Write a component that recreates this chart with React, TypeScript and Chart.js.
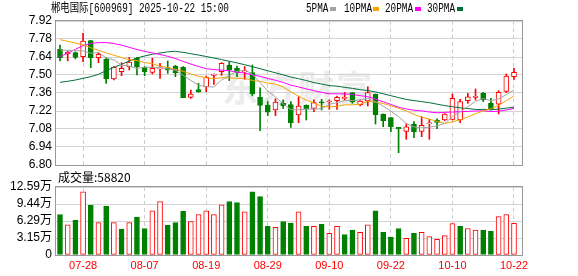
import React, { useEffect, useRef } from "react";
import { Chart, registerables } from "chart.js";

Chart.register(...registerables);

const stockTitle = "郴电国际[600969] 2025-10-22 15:00";
const watermark = "东方财富";
const maLabels = ["5PMA", "10PMA", "20PMA", "30PMA"];
const maColors = ["#a3a3a3", "#f5a300", "#ff00ff", "#006f3a"];

const dates = [
  "07-23", "07-24", "07-25", "07-28", "07-29", "07-30", "07-31", "08-01", "08-04", "08-05",
  "08-06", "08-07", "08-08", "08-11", "08-12", "08-13", "08-14", "08-15", "08-18", "08-19",
  "08-20", "08-21", "08-22", "08-25", "08-26", "08-27", "08-28", "08-29", "09-01", "09-02",
  "09-03", "09-04", "09-05", "09-08", "09-09", "09-10", "09-11", "09-12", "09-15", "09-16",
  "09-17", "09-18", "09-19", "09-22", "09-23", "09-24", "09-25", "09-26", "09-29", "09-30",
  "10-09", "10-10", "10-13", "10-14", "10-15", "10-16", "10-17", "10-20", "10-21", "10-22",
];
const dateTickIndex = [3, 11, 19, 27, 35, 43, 51, 59];

const open = [
  7.700, 7.666, 7.674, 7.643, 7.767, 7.635, 7.622, 7.469, 7.526, 7.565,
  7.630, 7.560, 7.521, 7.548, 7.557, 7.570, 7.560, 7.326, 7.386, 7.407,
  7.497, 7.526, 7.578, 7.552, 7.523, 7.518, 7.326, 7.267, 7.228, 7.280,
  7.270, 7.189, 7.267, 7.241, 7.288, 7.290, 7.300, 7.318, 7.363, 7.270,
  7.298, 7.352, 7.197, 7.168, 7.093, 7.062, 7.116, 7.062, 7.120, 7.150,
  7.150, 7.155, 7.150, 7.300, 7.326, 7.357, 7.280, 7.274, 7.373, 7.487,
];
const high = [
  7.733, 7.687, 7.680, 7.824, 7.770, 7.676, 7.637, 7.565, 7.596, 7.637,
  7.637, 7.565, 7.630, 7.591, 7.609, 7.575, 7.565, 7.383, 7.435, 7.492,
  7.510, 7.596, 7.604, 7.570, 7.565, 7.578, 7.401, 7.293, 7.316, 7.306,
  7.293, 7.331, 7.267, 7.306, 7.311, 7.306, 7.337, 7.365, 7.363, 7.306,
  7.409, 7.352, 7.197, 7.168, 7.093, 7.120, 7.137, 7.176, 7.155, 7.160,
  7.200, 7.352, 7.311, 7.357, 7.391, 7.365, 7.318, 7.378, 7.508, 7.552,
];
const low = [
  7.610, 7.610, 7.625, 7.604, 7.557, 7.596, 7.435, 7.461, 7.495, 7.539,
  7.500, 7.495, 7.508, 7.474, 7.513, 7.487, 7.324, 7.318, 7.365, 7.370,
  7.427, 7.497, 7.456, 7.487, 7.466, 7.337, 7.067, 7.184, 7.184, 7.241,
  7.093, 7.129, 7.150, 7.215, 7.228, 7.233, 7.233, 7.306, 7.280, 7.259,
  7.259, 7.119, 7.098, 7.059, 6.896, 7.000, 7.013, 7.020, 7.000, 7.083,
  7.145, 7.150, 7.129, 7.280, 7.306, 7.293, 7.228, 7.197, 7.363, 7.466,
];
const close = [
  7.635, 7.676, 7.637, 7.764, 7.635, 7.661, 7.469, 7.562, 7.552, 7.601,
  7.565, 7.523, 7.552, 7.556, 7.539, 7.518, 7.324, 7.352, 7.370, 7.482,
  7.508, 7.591, 7.539, 7.518, 7.534, 7.352, 7.264, 7.210, 7.290, 7.261,
  7.129, 7.259, 7.236, 7.285, 7.283, 7.295, 7.326, 7.318, 7.290, 7.298,
  7.363, 7.191, 7.145, 7.098, 7.083, 7.096, 7.059, 7.108, 7.124, 7.132,
  7.197, 7.318, 7.293, 7.331, 7.335, 7.306, 7.233, 7.365, 7.492, 7.521,
];

const ma5 = [
  7.694, 7.692, 7.690, 7.688, 7.669, 7.675, 7.633, 7.618, 7.576, 7.569,
  7.550, 7.561, 7.559, 7.559, 7.547, 7.538, 7.498, 7.458, 7.421, 7.409,
  7.407, 7.461, 7.498, 7.528, 7.538, 7.507, 7.441, 7.376, 7.330, 7.275,
  7.231, 7.230, 7.235, 7.234, 7.238, 7.272, 7.285, 7.301, 7.302, 7.305,
  7.319, 7.292, 7.257, 7.219, 7.176, 7.123, 7.096, 7.089, 7.094, 7.104,
  7.124, 7.176, 7.213, 7.254, 7.295, 7.317, 7.300, 7.314, 7.346, 7.383,
];
const ma10 = [
  7.775, 7.762, 7.748, 7.735, 7.712, 7.692, 7.672, 7.654, 7.636, 7.619,
  7.612, 7.597, 7.588, 7.568, 7.558, 7.544, 7.529, 7.508, 7.490, 7.478,
  7.472, 7.479, 7.478, 7.474, 7.474, 7.457, 7.451, 7.437, 7.429, 7.407,
  7.369, 7.336, 7.305, 7.282, 7.257, 7.251, 7.257, 7.268, 7.268, 7.272,
  7.295, 7.289, 7.279, 7.261, 7.241, 7.221, 7.194, 7.173, 7.157, 7.140,
  7.123, 7.136, 7.151, 7.174, 7.199, 7.220, 7.238, 7.263, 7.300, 7.339,
];
const ma20 = [
  7.643, 7.669, 7.700, 7.728, 7.745, 7.752, 7.752, 7.745, 7.732, 7.715,
  7.698, 7.684, 7.672, 7.660, 7.645, 7.628, 7.606, 7.585, 7.566, 7.549,
  7.542, 7.538, 7.533, 7.521, 7.516, 7.500, 7.490, 7.473, 7.459, 7.442,
  7.421, 7.407, 7.392, 7.378, 7.365, 7.354, 7.354, 7.353, 7.349, 7.339,
  7.332, 7.312, 7.292, 7.271, 7.249, 7.236, 7.226, 7.221, 7.212, 7.206,
  7.209, 7.212, 7.215, 7.217, 7.220, 7.221, 7.216, 7.218, 7.228, 7.240,
];
const ma30 = [
  7.443, 7.451, 7.461, 7.474, 7.487, 7.505, 7.534, 7.560, 7.583, 7.609,
  7.632, 7.648, 7.661, 7.671, 7.680, 7.684, 7.676, 7.666, 7.655, 7.644,
  7.632, 7.620, 7.607, 7.594, 7.580, 7.565, 7.549, 7.533, 7.517, 7.501,
  7.484, 7.471, 7.457, 7.441, 7.430, 7.417, 7.413, 7.404, 7.396, 7.386,
  7.379, 7.368, 7.354, 7.339, 7.324, 7.310, 7.301, 7.293, 7.285, 7.273,
  7.262, 7.253, 7.245, 7.239, 7.232, 7.231, 7.230, 7.235, 7.242, 7.250,
];

const volume = [
  75000, 56000, 64000, 117000, 92000, 60000, 90000, 60000, 48000, 60000,
  70000, 49000, 82000, 99000, 55000, 60000, 81000, 62000, 75000, 82000,
  75000, 93000, 99000, 97000, 80000, 117000, 108000, 53000, 51000, 62000,
  59000, 80000, 53000, 53000, 57000, 40000, 53000, 38000, 46000, 42000,
  56000, 82000, 42000, 33000, 49000, 31000, 40000, 42000, 34000, 29000,
  36000, 58000, 53000, 49000, 46000, 46000, 44000, 71000, 75000, 58820,
];
const volumeUp = [
  0, 1, 0, 1, 0, 1, 0, 1, 0, 1,
  0, 0, 1, 1, 0, 0, 0, 1, 1, 1,
  1, 1, 0, 0, 1, 0, 0, 0, 1, 0,
  0, 1, 0, 1, 0, 1, 1, 0, 0, 1,
  1, 0, 0, 0, 0, 1, 0, 1, 1, 1,
  1, 1, 0, 1, 1, 0, 0, 1, 1, 1,
];

const priceTicks = [6.8, 6.94, 7.08, 7.22, 7.36, 7.5, 7.64, 7.78, 7.92];
const volumeTicks = [0, 31475, 62950, 94425, 125900];
const volumeTickLabels = ["0", "3.15万", "6.29万", "9.44万", "12.59万"];

const UP = "#ff0000";
const DOWN = "#008000";
const X_MIN = -0.52;
const X_MAX = 60.04;
const AXIS_FONT = '"Liberation Sans", Arial, "Noto Sans CJK SC", sans-serif';

const framePlugin = {
  id: "frame",
  afterDraw(chart: any) {
    const { ctx, chartArea: a } = chart;
    ctx.save();
    ctx.strokeStyle = "#999999";
    ctx.lineWidth = 1;
    ctx.strokeRect(a.left - 0.5, a.top - 0.5, a.right - a.left + 1, a.bottom - a.top + 1);
    ctx.restore();
  },
};

function xScale(showLabels: boolean) {
  return {
    type: "linear",
    min: X_MIN,
    max: X_MAX,
    offset: false,
    afterBuildTicks: (s: any) => {
      s.ticks = dateTickIndex.map((v) => ({ value: v }));
    },
    grid: { offset: false, color: "#cccccc", drawTicks: false, lineWidth: 1 },
    border: { display: false, dash: [4, 3] },
    ticks: showLabels
      ? {
          display: true,
          autoSkip: false,
          maxRotation: 0,
          padding: 4,
          color: "#ff0000",
          font: { family: AXIS_FONT, size: 11 },
          callback: (v: any) => dates[Math.round(Number(v))],
        }
      : { display: false },
    ...(showLabels ? { afterFit: (s: any) => { s.height = 21; } } : {}),
  };
}

function yTicks(callback: (v: any, i: number) => string) {
  return {
    padding: 4,
    autoSkip: false,
    color: "#000000",
    font: { family: AXIS_FONT, size: 12 },
    callback,
  };
}

export default function App() {
  const priceRef = useRef<HTMLCanvasElement>(null);
  const volRef = useRef<HTMLCanvasElement>(null);

  useEffect(() => {
    const isUp = close.map((c, i) => c >= open[i]);
    const candleColor = isUp.map((u) => (u ? UP : DOWN));
    const bodyFill = isUp.map((u) => (u ? "#ffffff" : DOWN));
    const mas = [ma5, ma10, ma20, ma30];

    const priceChart = new Chart(priceRef.current as HTMLCanvasElement, {
      type: "bar",
      data: {
        datasets: [
          ...mas.map((arr, k) => ({
            type: "line" as const,
            label: maLabels[k],
            data: arr.map((v, i) => ({ x: i, y: v })),
            borderColor: maColors[k],
            borderWidth: 1,
            pointRadius: 0,
            tension: 0,
            order: 0,
          })),
          {
            type: "bar" as const,
            label: "body",
            data: open.map((o, i) => ({ x: i, y: [Math.min(o, close[i]), Math.max(o, close[i])] })),
            backgroundColor: bodyFill,
            borderColor: candleColor,
            borderWidth: 1,
            borderSkipped: false,
            barThickness: 5,
            minBarLength: 1,
            grouped: false,
            order: 1,
          },
          {
            type: "bar" as const,
            label: "wick",
            data: low.map((l, i) => ({ x: i, y: [l, high[i]] })),
            backgroundColor: candleColor,
            borderWidth: 0,
            barThickness: 1,
            grouped: false,
            order: 2,
          },
        ] as any,
      },
      options: {
        responsive: false,
        animation: false,
        devicePixelRatio: 1,
        events: [],
        layout: { padding: { left: 0, right: 56, top: 21, bottom: 13 } },
        plugins: { legend: { display: false }, tooltip: { enabled: false } },
        scales: {
          x: xScale(false) as any,
          y: {
            type: "linear",
            min: 6.8,
            max: 7.92,
            afterBuildTicks: (s: any) => {
              s.ticks = priceTicks.map((v) => ({ value: v }));
            },
            afterFit: (s: any) => {
              s.width = 56;
            },
            grid: { color: "#d4d4d4", drawTicks: false, lineWidth: 1 },
            border: { display: false },
            ticks: yTicks((v: any) => Number(v).toFixed(2)),
          },
        },
      } as any,
      plugins: [framePlugin],
    });

    const volChart = new Chart(volRef.current as HTMLCanvasElement, {
      type: "bar",
      data: {
        datasets: [
          {
            label: "volume",
            data: volume.map((v, i) => ({ x: i, y: v })),
            backgroundColor: volumeUp.map((u) => (u ? "#ffffff" : DOWN)),
            borderColor: volumeUp.map((u) => (u ? UP : DOWN)),
            borderWidth: 1,
            borderSkipped: false,
            barThickness: 5,
            grouped: false,
          },
        ] as any,
      },
      options: {
        responsive: false,
        animation: false,
        devicePixelRatio: 1,
        events: [],
        layout: { padding: { left: 0, right: 56, top: 15, bottom: 0 } },
        plugins: { legend: { display: false }, tooltip: { enabled: false } },
        scales: {
          x: xScale(true) as any,
          y: {
            type: "linear",
            min: 0,
            max: volumeTicks[volumeTicks.length - 1],
            afterBuildTicks: (s: any) => {
              s.ticks = volumeTicks.map((v) => ({ value: v }));
            },
            afterFit: (s: any) => {
              s.width = 56;
            },
            grid: { color: "#d4d4d4", drawTicks: false, lineWidth: 1 },
            border: { display: false },
            ticks: yTicks((_v: any, i: number) => volumeTickLabels[i]),
          },
        },
      } as any,
      plugins: [framePlugin],
    });

    return () => {
      priceChart.destroy();
      volChart.destroy();
    };
  }, []);

  const mono: React.CSSProperties = {
    position: "absolute",
    fontFamily: '"Liberation Mono", "Noto Sans CJK SC", monospace',
    fontSize: 12,
    lineHeight: "14px",
    whiteSpace: "pre",
    transform: "scaleX(0.78)",
    transformOrigin: "0 0",
    color: "#000",
    top: 2,
  };
  const legendText = [306, 344, 385, 427];
  const legendBox = [330, 373, 415, 457];

  return (
    <div
      style={{
        position: "absolute",
        left: 0,
        top: 0,
        width: 578,
        height: 276,
        background: "#ffffff",
        overflow: "hidden",
      }}
    >
      <span
        style={{
          position: "absolute",
          left: 222,
          top: 64,
          fontFamily: '"Noto Sans CJK SC", sans-serif',
          fontWeight: 700,
          fontSize: 36,
          lineHeight: "44px",
          whiteSpace: "pre",
          color: "#ececec",
          letterSpacing: 2,
        }}
      >
        {watermark}
      </span>
      <canvas
        ref={priceRef}
        width={578}
        height={178}
        style={{ position: "absolute", left: 0, top: 0, width: 578, height: 178 }}
      />
      <canvas
        ref={volRef}
        width={578}
        height={104}
        style={{ position: "absolute", left: 0, top: 172, width: 578, height: 104 }}
      />
      <span style={{ ...mono, left: 51 }}>{stockTitle}</span>
      {maLabels.map((lab, k) => (
        <React.Fragment key={lab}>
          <span style={{ ...mono, left: legendText[k] }}>{lab}</span>
          <div
            style={{
              position: "absolute",
              left: legendBox[k],
              top: 7,
              width: 6,
              height: 4,
              background: maColors[k],
            }}
          />
        </React.Fragment>
      ))}
      <span
        style={{
          position: "absolute",
          left: 58,
          top: 169,
          fontFamily: '"Noto Sans CJK SC", sans-serif',
          fontSize: 12,
          lineHeight: "15px",
          whiteSpace: "pre",
          color: "#000",
        }}
      >
        {`成交量:${volume[volume.length - 1]}`}
      </span>
    </div>
  );
}
